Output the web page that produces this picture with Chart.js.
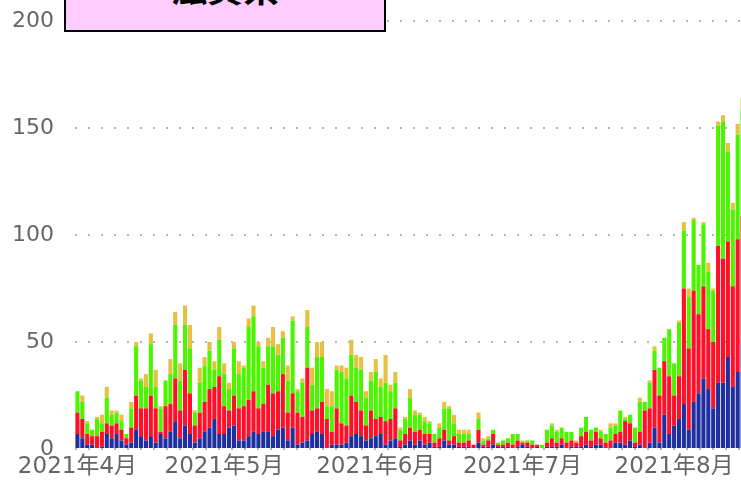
<!DOCTYPE html>
<html>
<head>
<meta charset="utf-8">
<script src="https://cdn.jsdelivr.net/npm/chart.js@4.4.1/dist/chart.umd.min.js"></script>
<style>
  html, body { margin: 0; padding: 0; overflow: hidden; background: #fff; }
  #wrap { position: relative; width: 741px; height: 480px; overflow: hidden; }
  #myChart { position: absolute; left: 0; top: 0; }
  #title {
    position: absolute; left: 64px; top: -42px; width: 322px; height: 74px;
    box-sizing: border-box; border: 2px solid #000; background: #ffccff;
    text-align: center; line-height: 80px;
    font: bold 36px 'Noto Sans CJK JP', sans-serif; color: #000;
  }
</style>
</head>
<body>
<div id="wrap">
  <canvas id="myChart" width="745" height="480"></canvas>
  <div id="title">滋賀県</div>
</div>
<script>
// first day of the series, one bar per day
const startDate = '2021-04-01';
const tickDates = ['2021-04-01', '2021-05-01', '2021-06-01', '2021-07-01', '2021-08-01'];
const tickLabels = ['2021年4月', '2021年5月', '2021年6月', '2021年7月', '2021年8月'];

const blue = [
  7,5,2,2,0,1,7,5,7,4,2,3,9,6,4,6,3,7,5,8,13,5,
  11,7,3,5,8,10,14,7,7,10,11,4,4,6,8,7,8,8,6,9,10,4,10,
  2,3,4,7,8,7,0,2,2,2,3,6,7,6,4,5,6,7,2,4,5,1,2,
  4,2,4,2,3,1,1,4,2,2,1,1,1,0,3,1,1,2,1,1,1,0,1,
  2,1,0,1,0,1,1,1,2,0,1,1,1,2,1,2,2,0,0,3,3,2,4,
  1,2,0,3,10,3,16,7,11,14,21,9,22,26,33,28,19,31,31,43,29,36,49
];
const red = [
  10,9,5,4,6,7,5,6,5,5,3,7,16,13,15,19,16,1,15,13,20,13,
  26,19,8,12,14,18,15,27,13,8,14,15,16,17,19,12,13,22,20,18,25,13,16,
  15,12,34,11,11,15,14,6,17,10,8,19,15,12,7,13,8,8,11,10,14,3,5,
  6,6,5,5,4,2,4,5,2,4,2,2,3,2,6,1,3,5,1,1,2,2,3,
  1,2,2,1,0,2,4,2,3,3,3,2,5,6,3,6,3,3,4,4,5,11,8,
  2,6,18,16,27,22,25,27,14,20,54,38,52,37,43,28,31,64,58,54,47,62,60
];
const green = [
  10,8,5,3,8,4,12,5,5,4,2,9,23,13,10,24,10,11,12,14,25,14,
  21,21,6,14,17,18,8,17,15,10,22,16,18,34,35,29,17,18,22,17,17,15,34,
  10,16,19,12,24,21,6,12,18,24,22,19,16,19,13,14,22,14,18,13,12,5,7,
  14,8,7,6,5,4,5,10,15,6,4,4,3,0,5,2,1,2,1,2,2,5,3,
  0,1,2,0,2,6,6,5,5,5,4,0,4,7,5,2,3,4,6,4,10,1,4,
  7,14,4,12,9,13,11,22,15,25,27,24,33,23,29,27,24,56,64,42,36,49,50
];
const yellow = [
  0,3,1,0,1,4,5,2,1,3,0,3,2,1,6,5,8,1,0,7,6,8,
  9,11,1,7,4,4,4,6,5,3,3,6,1,4,5,2,3,4,9,5,3,7,2,
  1,2,8,8,7,7,8,7,2,3,5,7,6,6,3,4,6,4,13,3,5,1,1,
  4,2,1,2,1,0,2,3,1,4,2,2,2,0,3,1,1,0,0,0,0,0,0,
  1,0,0,0,0,0,1,1,0,0,0,1,0,0,0,0,1,0,2,1,0,1,0,
  0,2,0,1,2,0,0,0,0,1,4,4,1,0,1,4,1,2,3,4,3,5,5
];

// one date label per bar
const days = [];
const d0 = new Date(startDate + 'T00:00:00Z');
for (let i = 0; i < blue.length; i++) {
    const d = new Date(d0.getTime() + i * 86400000);
    days.push(d.toISOString().slice(0, 10));
}

const ctx = document.getElementById('myChart').getContext('2d');
const barStyle = { barPercentage: 0.84, categoryPercentage: 1.0, borderWidth: 0 };

new Chart(ctx, {
    type: 'bar',
    data: {
        labels: days,
        datasets: [
            { data: blue, backgroundColor: '#1f2f9f', ...barStyle },
            { data: red, backgroundColor: '#ff1028', ...barStyle },
            { data: green, backgroundColor: '#4cf400', ...barStyle },
            { data: yellow, backgroundColor: '#e6c040', ...barStyle }
        ]
    },
    options: {
        responsive: false,
        animation: false,
        layout: { padding: { top: 21, right: 0, left: 0, bottom: 0 } },
        plugins: {
            legend: { display: false },
            tooltip: { enabled: false }
        },
        scales: {
            x: {
                stacked: true,
                offset: true,
                grid: { display: false, drawTicks: false },
                border: { display: false },
                afterFit: (scale) => {
                    scale.height = 31;
                    scale.paddingLeft = 0;
                    scale.paddingRight = 0;
                },
                ticks: {
                    autoSkip: false,
                    maxRotation: 0,
                    padding: 4,
                    color: '#666',
                    font: { family: "'DejaVu Sans', 'Noto Sans CJK JP', sans-serif", size: 23 },
                    callback: function (value, index) {
                        const k = tickDates.indexOf(days[index]);
                        return k >= 0 ? tickLabels[k] : '';
                    }
                }
            },
            y: {
                stacked: true,
                min: 0,
                max: 200,
                afterFit: (scale) => {
                    scale.width = 75;
                    scale.paddingTop = 0;
                    scale.paddingBottom = 0;
                },
                grid: {
                    drawTicks: false,
                    color: '#b4b4b4',
                    lineWidth: 2
                },
                border: { display: false, dash: [2, 11] },
                ticks: {
                    stepSize: 50,
                    padding: 21,
                    color: '#666',
                    font: { family: "'DejaVu Sans', sans-serif", size: 22 }
                }
            }
        }
    }
});
</script>
</body>
</html>
